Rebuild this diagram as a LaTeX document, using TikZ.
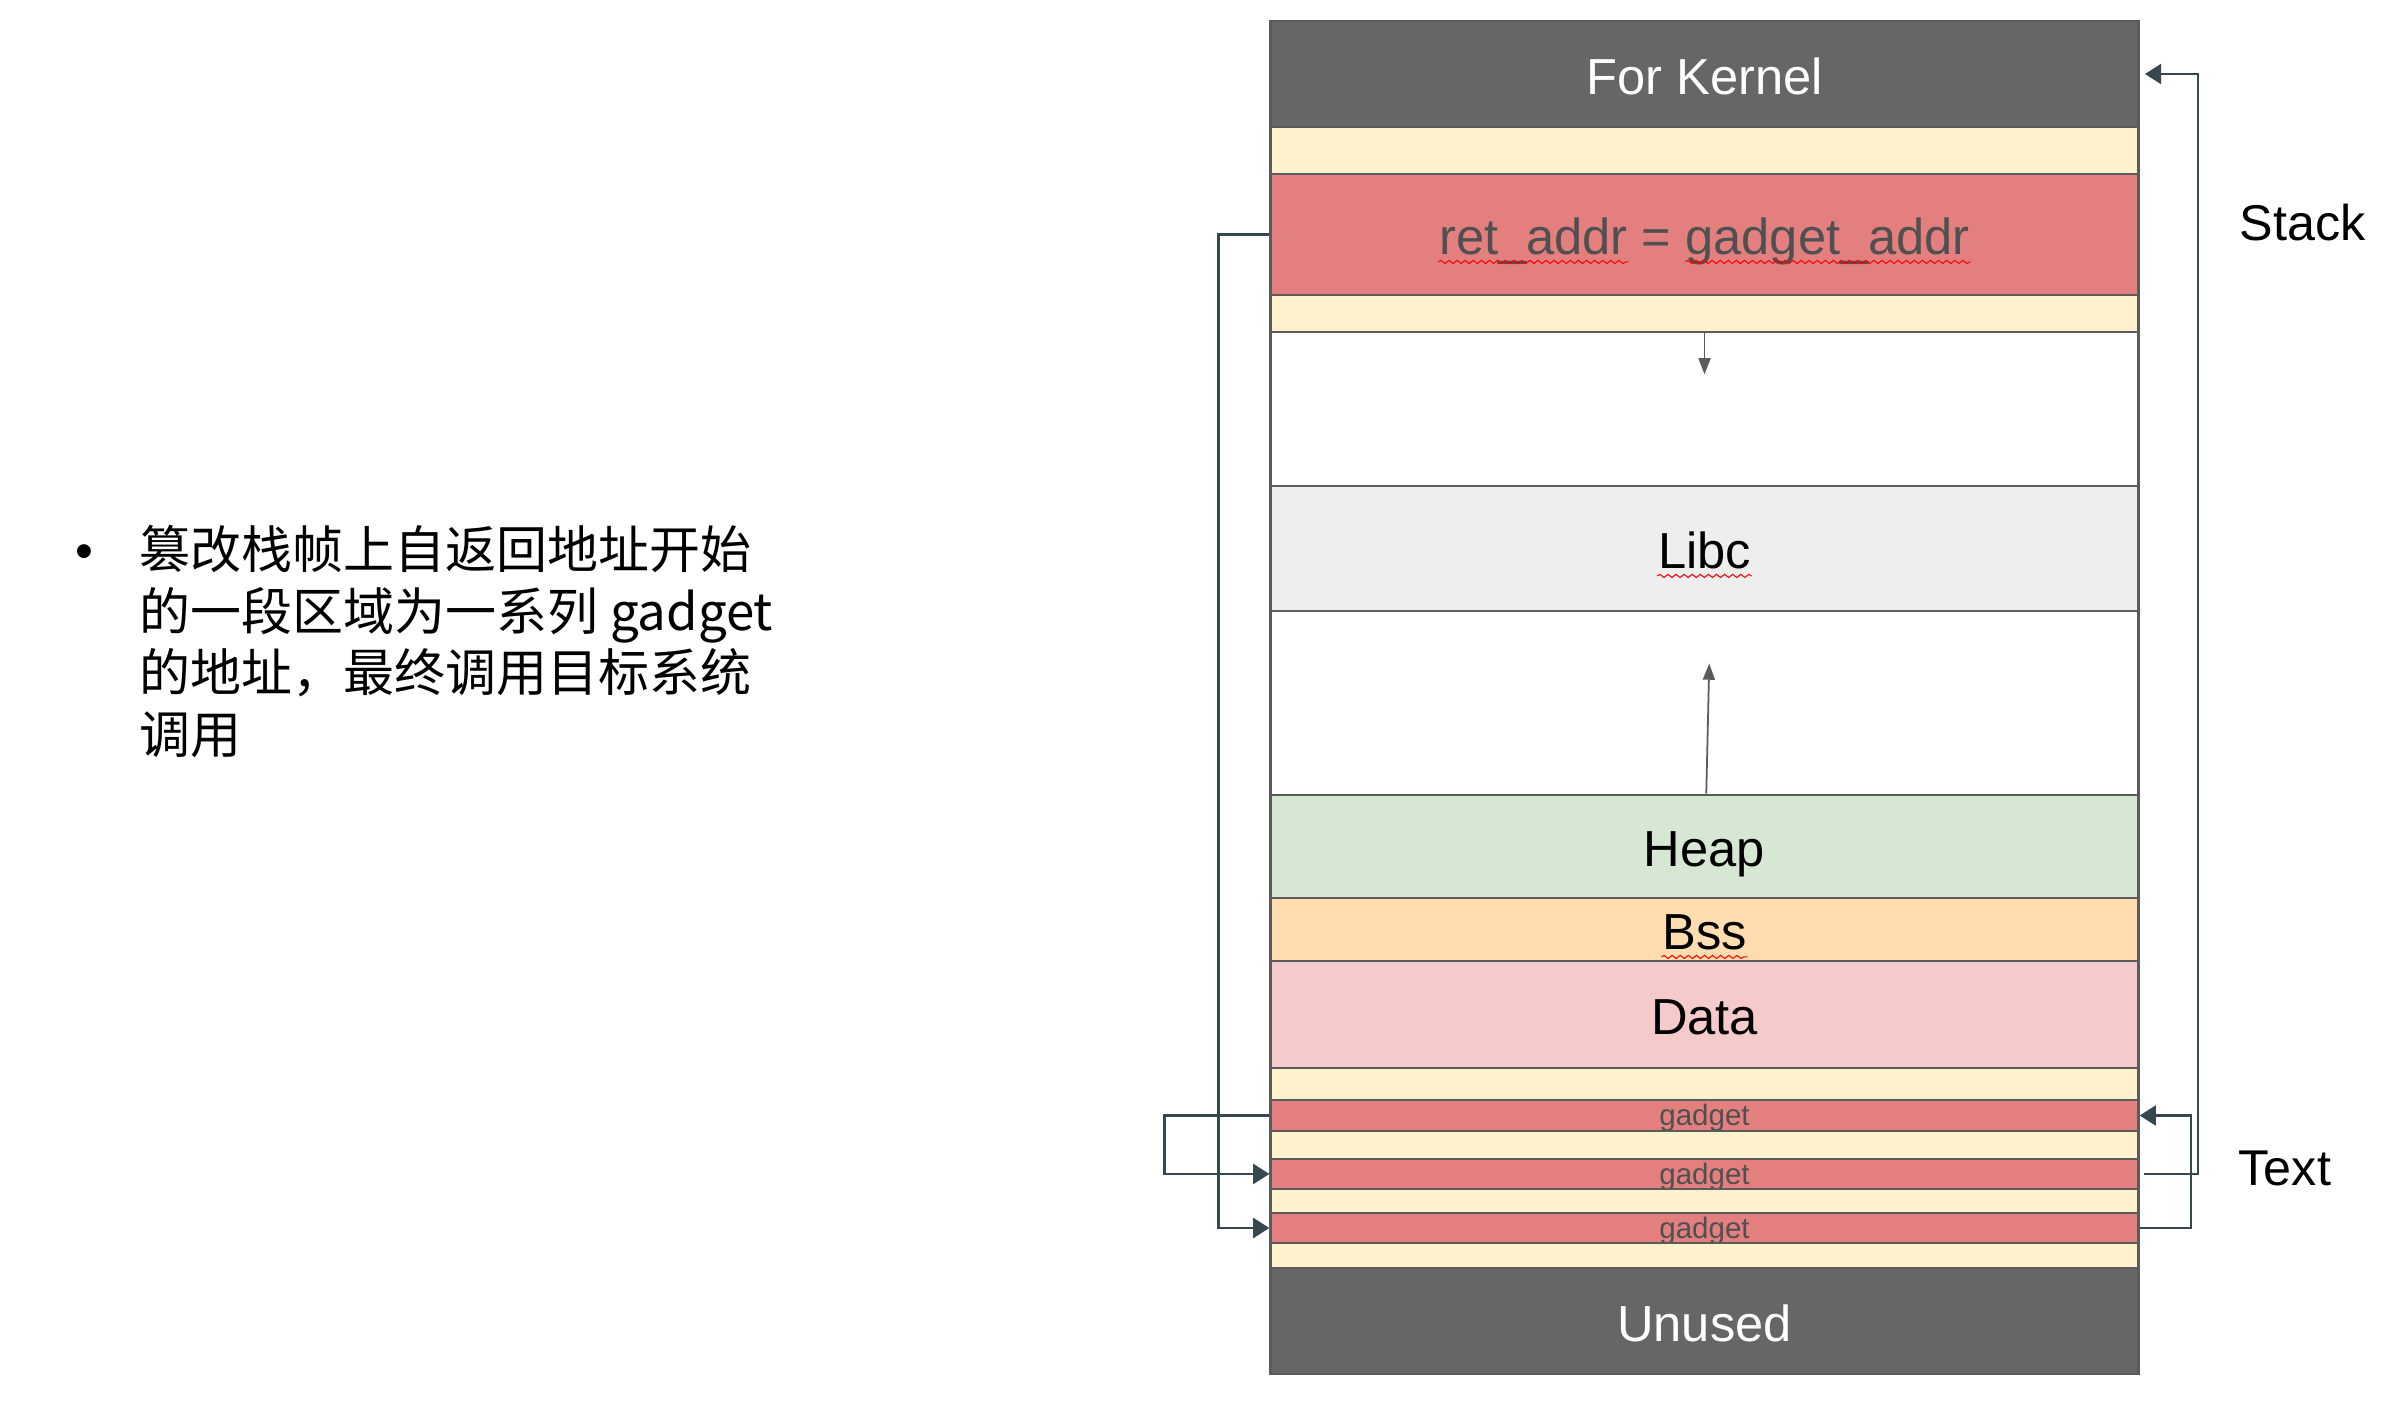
\documentclass[tikz,border=0pt]{standalone}
\usepackage{fontspec}
\setmainfont{Liberation Sans}
\newfontfamily\cjk{Noto Sans CJK SC}
\usetikzlibrary{arrows.meta,calc,decorations.pathmorphing}

\definecolor{kernelgray}{HTML}{666666}
\definecolor{slotyellow}{HTML}{FFF2CC}
\definecolor{hotred}{HTML}{E37F7F}
\definecolor{libcgray}{HTML}{EEEEEE}
\definecolor{heapgreen}{HTML}{D6E8D4}
\definecolor{bssorange}{HTML}{FFDDB0}
\definecolor{datapink}{HTML}{F5CACB}
\definecolor{bordergray}{HTML}{5B5B5B}
\definecolor{linkslate}{HTML}{37474F}
\definecolor{textgray}{HTML}{505050}

\tikzset{
  band/.style={draw=bordergray, line width=0.8pt, minimum width=8.67cm, inner sep=0pt,
    text height=11.6pt, text depth=0pt, font=\fontsize{14.4}{17}\selectfont},
  slot/.style={band, fill=slotyellow, text height=0pt, text depth=0pt},
  gadgetband/.style={band, fill=hotred, text=textgray, text height=5.9pt, text depth=0pt,
    font=\fontsize{8.4}{10}\selectfont},
  bandtext/.style={inner sep=0pt, text height=11.6pt, text depth=0pt, font=\fontsize{14.4}{17}\selectfont},
  link/.style={draw=linkslate, line width=0.65pt, -{Triangle[length=4.6pt,width=5.7pt]}},
  growth/.style={draw=bordergray, line width=0.5pt, -{Triangle[length=4.6pt,width=3.4pt]}},
  squiggle/.style={draw=red, line width=0.3pt, decorate,
    decoration={snake, amplitude=0.45pt, segment length=2.3pt}},
  side/.style={anchor=west, inner sep=0pt, font=\fontsize{14.3}{17}\selectfont},
  cjkline/.style={anchor=base west, inner sep=0pt, font=\cjk\fontsize{14.5}{17.5}\selectfont}
}

\begin{document}
\begin{tikzpicture}[x=0.01cm, y=-0.01cm]
  \useasboundingbox (0,0) rectangle (2394,1416);
  %Memory layout, top to bottom
  \node[band, fill=kernelgray, text=white, minimum height=1.06cm] (kernel) at (1704.5,74) {For Kernel};
  \node[slot, minimum height=0.47cm] (slot1) at (1704.5,150.5) {};
  \node[band, fill=hotred, minimum height=1.21cm] (ret) at (1704.5,234.5) {};
  \node[slot, minimum height=0.37cm] (slot2) at (1704.5,313.5) {};
  \node[band, fill=white, minimum height=1.54cm] (gap1) at (1704.5,409) {};
  \node[band, fill=libcgray, minimum height=1.25cm] (libc) at (1704.5,548.5) {};
  \node[band, fill=white, minimum height=1.84cm] (gap2) at (1704.5,703) {};
  \node[band, fill=heapgreen, minimum height=1.03cm] (heap) at (1704.5,846.5) {Heap};
  \node[band, fill=bssorange, minimum height=0.63cm] (bss) at (1704.5,929.5) {};
  \node[band, fill=datapink, minimum height=1.07cm] (data) at (1704.5,1014.5) {Data};
  \node[slot, minimum height=0.32cm] (slot3) at (1704.5,1084) {};
  \node[gadgetband, minimum height=0.31cm] (gadget1) at (1704.5,1115.5) {gadget};
  \node[slot, minimum height=0.28cm] (slot4) at (1704.5,1145) {};
  \node[gadgetband, minimum height=0.30cm] (gadget2) at (1704.5,1174) {gadget};
  \node[slot, minimum height=0.24cm] (slot5) at (1704.5,1201) {};
  \node[gadgetband, minimum height=0.30cm] (gadget3) at (1704.5,1228) {gadget};
  \node[slot, minimum height=0.25cm] (slot6) at (1704.5,1255.5) {};
  \node[band, fill=kernelgray, text=white, minimum height=1.06cm] (unused) at (1704.5,1321) {Unused};
  %Labels with spell check marks
  \node[bandtext, text=textgray] (rettxt) at (ret) {ret\_addr = gadget\_addr};
  \node[bandtext] (libctxt) at (libc) {Libc};
  \node[bandtext] (bsstxt) at (bss) {Bss};
  \draw[squiggle] ($(rettxt.base west)+(0pt,-2pt)$) -- ($(rettxt.base west)!0.357!(rettxt.base east)+(0pt,-2pt)$);
  \draw[squiggle] ($(rettxt.base west)!0.464!(rettxt.base east)+(0pt,-2pt)$) -- ($(rettxt.base east)+(0pt,-2pt)$);
  \draw[squiggle] ($(libctxt.base west)+(0pt,-2pt)$) -- ($(libctxt.base east)+(0pt,-2pt)$);
  \draw[squiggle] ($(bsstxt.base west)+(0pt,-2pt)$) -- ($(bsstxt.base east)+(0pt,-2pt)$);
  %Stack grows down, heap grows up
  \draw[growth] (slot2.south) -- ++(0,41);
  \draw[growth] ([xshift=0.5pt]heap.north) -- ++(3,-130);
  %Gadget chain
  \draw[link] (ret.west) -- ++(-51,0) |- (gadget3.west);          %ret_addr
  \draw[link] (gadget1.west) -- ++(-105,0) |- (gadget2.west);     %Left
  \draw[link] (gadget3.east) -- ++(51,0) |- (gadget1.east);       %Right
  \draw[link] ([xshift=1.2pt]gadget2.east) -- ++(54,0) |- ([xshift=1.5pt]kernel.east); %Up
  %Regions
  \node[side] (stack) at (2239,223) {Stack};
  \node[side] (text) at (2238,1168) {Text};
  %Bullet point
  \node[anchor=base, inner sep=0pt, font=\fontsize{14.5}{17}\selectfont] (dot) at (84,569) {•};
  \node[cjkline] (line1) at (139,569) {篡改栈帧上自返回地址开始};
  \node[cjkline] (line2) at (139,630) {的一段区域为一系列 gadget};
  \node[cjkline] (line3) at (139,692) {的地址，最终调用目标系统};
  \node[cjkline] (line4) at (139,754) {调用};
\end{tikzpicture}
\end{document}
